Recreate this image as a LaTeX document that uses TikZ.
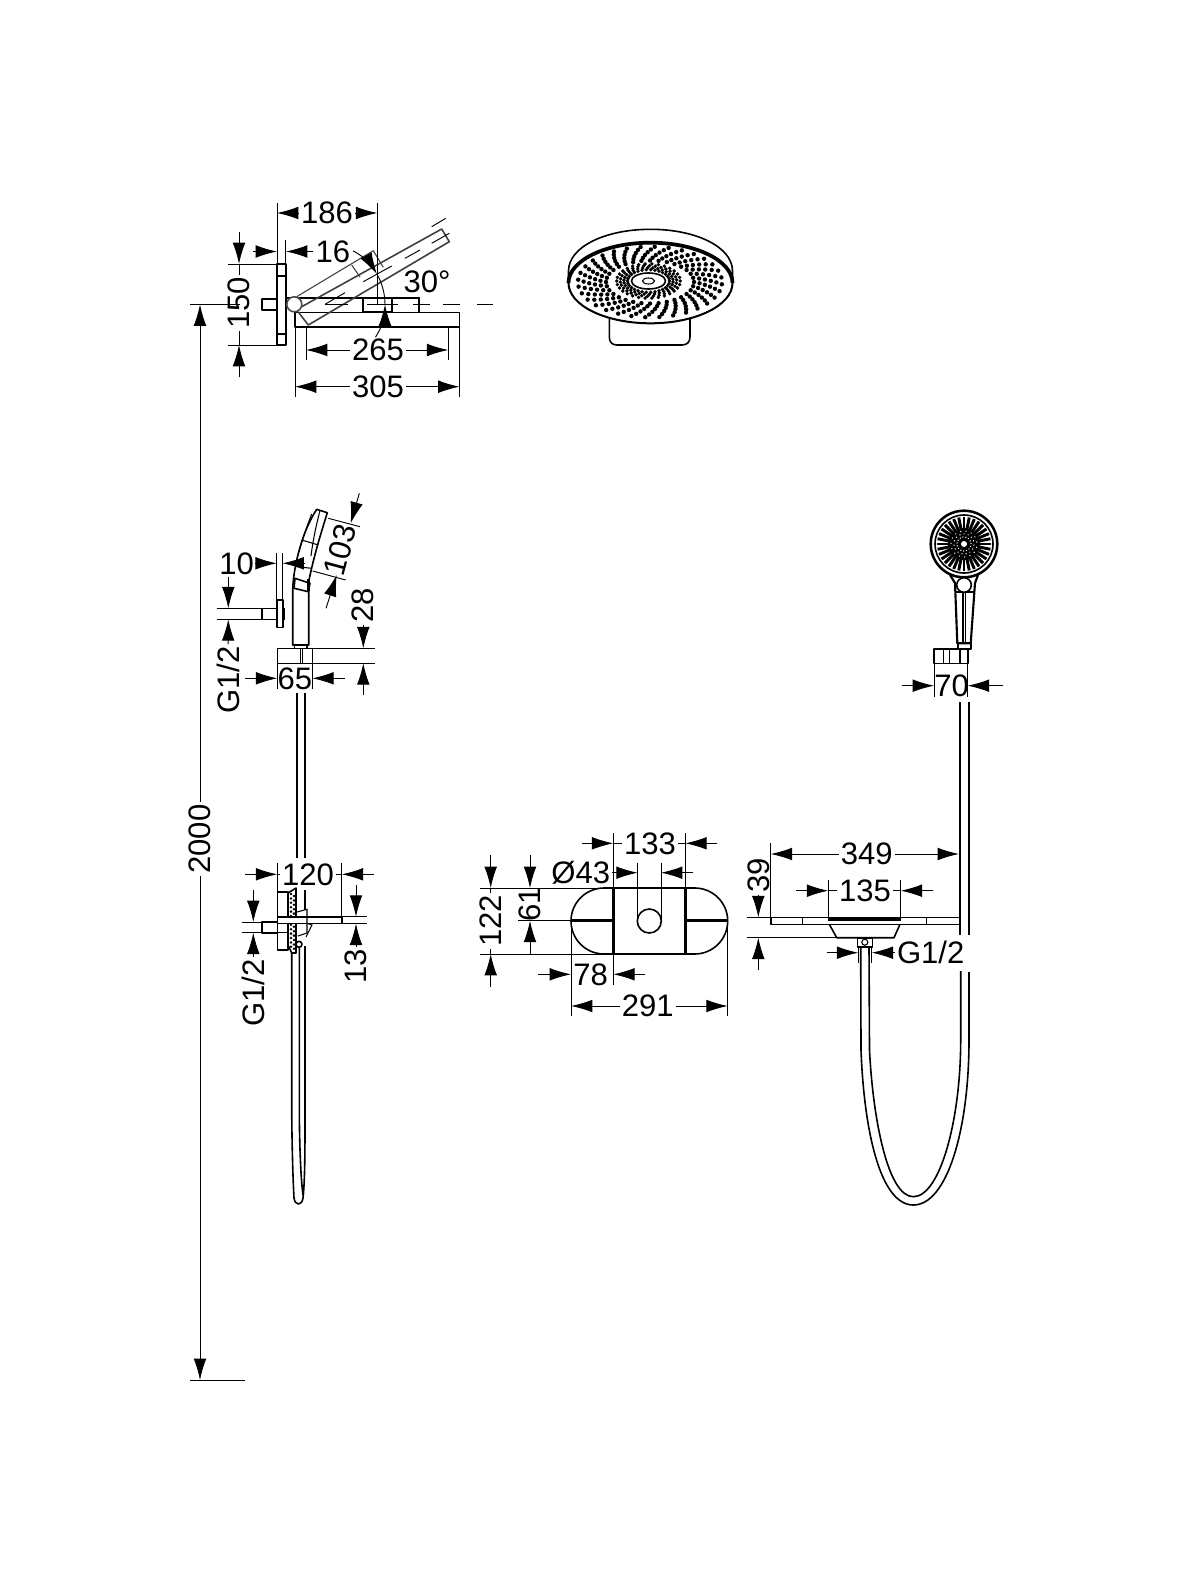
\documentclass[tikz,border=0pt]{standalone}
\usepackage{fontspec}
\setmainfont{Liberation Sans}
\usetikzlibrary{arrows.meta}

\tikzset{
  dimline/.style={draw=black,line width=0.7pt},
  dimtip/.style={dimline,-{Latex[length=16pt,width=9.5pt]}},
  dimtext/.style={inner sep=1.5pt,font=\fontsize{23.3}{26}\selectfont},
  thinpart/.style={draw=black,line width=0.8pt},
  part/.style={draw=black,line width=1.2pt,line join=round},
  thickpart/.style={draw=black,line width=1.9pt,line join=round}
}

\begin{document}
\begin{tikzpicture}[x=0.75pt,y=0.75pt,yscale=-1,xscale=1]
\useasboundingbox (0,0) rectangle (1200,1570);

%Shape: wall plate, arm, tilted head
\draw [part] (277,264) rectangle (286,345);
\draw [thinpart] (277,276) -- (286,276) (277,334) -- (286,334);
\draw [part] (262,299) rectangle (277,310);
\draw [thinpart] (286,298) -- (419,298) -- (419,312);
\draw [part] (295,312.3) rectangle (459.5,326.7);
\draw [part] (362.7,298) rectangle (391.7,312);
\draw [part,draw=black!75] (301.7,306.7) -- (441.7,229) -- (449.3,241.7) -- (308.3,325) -- (298,311.7);
\draw [thinpart,draw=black!75] (296.7,296.7) -- (373.3,250.7) -- (383.3,267.3);
\draw [thinpart,draw=black!75] (351.7,265) -- (360,277);
\draw [part,fill=white,draw=black!70] (294.3,304.3) circle (7.5);
%Straight Lines: center lines
\draw [dimline] (190,304.5) -- (240,304.5);
\foreach \a/\b in {325/348,367/398,413/430,443/460,477/493}
  \draw [dimline] (\a,304.5) -- (\b,304.5);
\draw [dimline] (325,304.3) -- (345,292.7) (363.3,281.7) -- (391.7,266) (405,258.3) -- (420,250) (431.7,243.3) -- (449.3,233.3) (431.7,226.7) -- (445.7,218.3);
%Shape: Arc 30 degrees
\draw [dimline] (324,304.5) ++(-30:61) arc (-30:0:61);
\draw [dimtip] (324,304.5) ++(-61.5:61) arc (-61.5:-30:61);
\draw [dimtip] (324,304.5) ++(32.5:61) arc (32.5:0:61);

% Text Node
\draw (327,213) node (tTop) [dimtext] {186};
\draw (333,251.5) node (tGap) [dimtext] {16};
\draw (239,303) node (tPlate) [dimtext,rotate=90] {150};
\draw (427,282) node (tAngle) [dimtext] {30°};
\draw (378,350) node (tFace) [dimtext] {265};
\draw (378,386.7) node (tWidth) [dimtext] {305};
\draw (200,839) node (tHeight) [dimtext,rotate=90] {2000};

%Straight Lines: dimensions of the ceiling arm
\draw [dimline] (277,203) -- (277,264) (377.3,203) -- (377.3,305) (285.5,240) -- (285.5,264);
\draw [dimtip] (tTop) -- (277,213);
\draw [dimtip] (tTop) -- (377.3,213);
\draw [dimtip] (253,251.5) -- (277,251.5);
\draw [dimtip] (tGap) -- (286,251.5);
\draw [dimline] (228,264) -- (277,264) (228,345) -- (277,345);
\draw [dimtip] (239,232) -- (239,264);
\draw [dimline] (tPlate) -- (239,264);
\draw [dimtip] (239,377) -- (239,345);
\draw [dimline] (tPlate) -- (239,345);
\draw [dimline] (306,327) -- (306,360) (448.3,327) -- (448.3,360);
\draw [dimtip] (tFace) -- (306,350);
\draw [dimtip] (tFace) -- (448.3,350);
\draw [dimline] (295,327) -- (295,397) (459.5,327) -- (459.5,397);
\draw [dimtip] (tWidth) -- (295,386.7);
\draw [dimtip] (tWidth) -- (459.5,386.7);
\draw [dimtip] (tHeight) -- (200,304.5);
\draw [dimtip] (tHeight) -- (200,1380);
\draw [dimline] (190,1380) -- (245,1380);

%Shape: round head seen from below
\draw [part] (609.3,319) -- (609.3,337) .. controls (609.3,342) and (612,345) .. (617,345) -- (682,345) .. controls (687,345) and (690,342) .. (690,337) -- (690,319);
\draw [part,fill=white] (568.5,271) .. controls (568.5,247) and (605,229.3) .. (650.5,229.3) .. controls (696,229.3) and (732.5,247) .. (732.5,271) -- (732.5,283) -- (568.5,283) -- cycle;
\draw [part,line width=1.5pt,fill=white] (650.5,283) ellipse (82 and 40.3);
\draw [thickpart,line width=2.8pt] (568.5,283) arc (180:360:82 and 40.3);
\draw [part] (648.5,281) ellipse (17 and 8);
\draw [thinpart] (648.5,281) ellipse (6 and 3);
\foreach \k in {0,...,3}
  \foreach \a in {0,12,...,348}
    \fill ({648.5+(21+3.6*\k)*cos(\a+4*\k)},{281+0.54*(21+3.6*\k)*sin(\a+4*\k)}) circle (1.9);
\foreach \k in {0,...,5}
  \foreach \a in {0,11.25,...,349}
    \fill ({650+(44+5.6*\k)*cos(\a+3*\k)},{282+0.49*(44+5.6*\k)*sin(\a+3*\k)}) circle (2.2);

%Shape: hand shower side view
\draw [part] (276.7,600) rectangle (282.7,627.3);
\draw [thickpart] (284,608) -- (284,620);
\draw [part] (261.7,608.3) rectangle (276.7,619.3);
\draw [part] (292.7,645) -- (292.7,590) .. controls (293,572) and (300,535) .. (316.7,509.3) -- (327.3,512.7) .. controls (322,530) and (314,555) .. (308.7,581.7) -- (308.7,645) -- cycle;
\draw [thinpart] (311.7,514) .. controls (307,526) and (302,540) .. (299,552);
\draw [thinpart] (320,510.5) .. controls (316,526) and (313,540) .. (311,556);
\draw [thinpart] (301.7,540) -- (318.3,545) (296.7,566.7) -- (311.7,568.3);
\draw [part] (295,578.3) -- (310,583.3) -- (308.3,591.7) -- (294,588.3) -- cycle;
\draw [thickpart] (308.3,579) -- (308.3,591);
\draw [part] (294.3,645) rectangle (306.7,648.3);
\draw [part] (277.3,648.3) rectangle (312.3,663.3);
\draw [thinpart] (300.7,648.3) -- (300.7,663.3) (302.7,648.3) -- (302.7,663.3);
\draw [part] (296.7,693) -- (296.7,858) (305,693) -- (305,858);

%Shape: hand shower on the wall with hose
\draw [part] (277.3,891.7) rectangle (288,950);
\draw [part] (288,893) -- (296,888) -- (296,953) -- (291.7,953) -- (288,945);
\foreach \k in {0,...,12} {
  \fill (291,{894+4.4*\k}) circle (1.4);
  \fill (294,{896+4.4*\k}) circle (1.4);
}
\draw [part,fill=white] (277.3,916.7) rectangle (341.7,923.3);
\draw [part] (261.7,922) rectangle (277.3,932.7);
\draw [thinpart] (277.3,932.7) -- (288,932.7);
\draw [thinpart] (297,912) -- (307,909.3) -- (307,933) -- (298,936);
\draw [thinpart] (307,923.3) -- (312,925) -- (306,937);
\draw [part,fill=white] (299,944.3) circle (3);
\draw [thinpart] (305,890) -- (305,910);
\draw [part] (291.7,953) -- (291.7,1110) .. controls (292,1150) and (293,1180) .. (294,1198) .. controls (295,1206) and (302,1206) .. (303,1198) .. controls (305,1180) and (305,1150) .. (305,1110) -- (305,946);
\draw [part] (299.3,948) -- (299.3,1110) .. controls (299.5,1150) and (301,1180) .. (303,1195);

% Text Node
\draw (236.7,563.3) node (tDepth) [dimtext] {10};
\draw (228,680) node (tThreadA) [dimtext,rotate=90] {G1/2};
\draw (340,550) node (tHead) [dimtext,rotate=75] {103};
\draw (363.3,605) node (tHolder) [dimtext,rotate=90] {28};
\draw (295,678.3) node (tHolderW) [dimtext] {65};
\draw (308,874.3) node (tReach) [dimtext] {120};
\draw (253.3,993) node (tThreadB) [dimtext,rotate=90] {G1/2};
\draw (356,966.7) node (tRod) [dimtext,rotate=90] {13};

%Straight Lines: dimensions of the side view
\draw [dimline] (276.7,553) -- (276.7,600) (282.5,553) -- (282.5,600);
\draw [dimtip] (255,563.3) -- (276.7,563.3);
\draw [dimtip] (305,563.3) -- (282.5,563.3);
\draw [dimline] (216.7,608.3) -- (261.7,608.3) (216.7,619.3) -- (261.7,619.3);
\draw [dimtip] (228.3,576.7) -- (228.3,608.3);
\draw [dimtip] (tThreadA) -- (228.3,619.3);
\draw [dimline] (328.3,518.3) -- (360,526.7) (312.7,571) -- (345.7,580);
\draw [dimtip] (359.3,493.3) -- (350.7,523.3);
\draw [dimtip] (326,608.3) -- (336.7,575);
\draw [dimline] (312.3,648.3) -- (375,648.3) (312.3,663.3) -- (375,663.3);
\draw [dimtip] (tHolder) -- (363.3,648.3);
\draw [dimtip] (363.3,695) -- (363.3,663.3);
\draw [dimline] (277.3,663.3) -- (277.3,689) (312.3,663.3) -- (312.3,689);
\draw [dimtip] (245,678.3) -- (277.3,678.3);
\draw [dimtip] (345,678.3) -- (312.3,678.3);
\draw [dimline] (277.3,863) -- (277.3,891.7) (341.7,863) -- (341.7,916.7);
\draw [dimtip] (245,874.3) -- (277.3,874.3);
\draw [dimtip] (374,874.3) -- (341.7,874.3);
\draw [dimline] (tReach) -- (277.3,874.3) (tReach) -- (341.7,874.3);
\draw [dimline] (241.7,922) -- (261.7,922) (241.7,932.7) -- (261.7,932.7);
\draw [dimtip] (253.3,890) -- (253.3,922);
\draw [dimtip] (tThreadB) -- (253.3,932.7);
\draw [dimline] (341.7,916.7) -- (366.7,916.7) (341.7,923.7) -- (366.7,923.7);
\draw [dimtip] (356,885) -- (356,916.7);
\draw [dimtip] (tRod) -- (356,923.7);

%Shape: wall plate of the hose outlet
\draw [part] (604,888) -- (694.7,888) arc (-90:90:33) -- (604,954) arc (90:270:33) -- cycle;
\draw [thickpart] (613.3,888) -- (613.3,954) (685.3,888) -- (685.3,954);
\draw [thickpart] (571,920.7) -- (613.3,920.7) (685.3,920.7) -- (727.7,920.7);
\draw [part] (649.3,921) circle (12);

% Text Node
\draw (650,843.3) node (tDist) [dimtext] {133};
\draw (580.7,872.7) node (tBore) [dimtext] {Ø43};
\draw (490.7,921) node (tPlateH) [dimtext,rotate=90] {122};
\draw (530,904) node (tHalf) [dimtext,rotate=90] {61};
\draw (590.7,974.3) node (tSide) [dimtext] {78};
\draw (647.7,1006) node (tPlateW) [dimtext] {291};

%Straight Lines: dimensions of the wall plate
\draw [dimline] (613.3,833) -- (613.3,888) (685.3,833) -- (685.3,888);
\draw [dimtip] (581.7,843.3) -- (613.3,843.3);
\draw [dimtip] (717.3,843.3) -- (685.3,843.3);
\draw [dimline] (tDist) -- (613.3,843.3) (tDist) -- (685.3,843.3);
\draw [dimline] (637.7,862.7) -- (637.7,921) (661,862.7) -- (661,921);
\draw [dimtip] (611.7,872.7) -- (637.7,872.7);
\draw [dimtip] (693.3,872.7) -- (661,872.7);
\draw [dimline] (480,888) -- (604,888) (480,954) -- (604,954) (518.3,920.7) -- (571,920.7);
\draw [dimtip] (490.7,855) -- (490.7,888);
\draw [dimtip] (490.7,986.7) -- (490.7,954);
\draw [dimline] (tPlateH) -- (490.7,888) (tPlateH) -- (490.7,954);
\draw [dimtip] (530,855) -- (530,888);
\draw [dimtip] (530,954) -- (530,920.7);
\draw [dimline] (571,921) -- (571,1016) (727.7,921) -- (727.7,1016) (613.3,954) -- (613.3,985);
\draw [dimtip] (538.3,974.3) -- (571,974.3);
\draw [dimtip] (645,974.3) -- (613.3,974.3);
\draw [dimtip] (tPlateW) -- (571,1006);
\draw [dimtip] (tPlateW) -- (727.7,1006);

%Shape: front view, hand shower
\draw [part,line width=1.6pt] (950,575) -- (955,583) -- (957.3,643.3) -- (970.7,643.3) -- (975,583) -- (978,575);
\draw [thinpart] (963,592) -- (963,643.3) (965.5,592) -- (965.5,643.3) (956,592) -- (974,592);
\draw [thickpart,fill=white] (964,544) circle (33.3);
\draw [part] (964,544) circle (29);
\fill (964,544) circle (16);
\foreach \a in {0,11.25,...,349}
  \draw [line width=2.2pt] (964,544) ++(\a:14) -- ++(\a:13);
\foreach \r in {7,10,13}
  \foreach \a in {0,24,...,336}
    \fill [white] (964,544) ++(\a+\r*3:\r) circle (0.7);
\fill [white] (964,544) circle (3);
\draw [part,fill=white] (964,585) circle (7.3);
\draw [part] (958,643.3) rectangle (970.7,649);
\draw [part] (934,649) rectangle (967.7,663.3);
\draw [thinpart] (943.3,649) -- (943.3,663.3) (949.3,649) -- (949.3,663.3) (960,649) -- (960,663.3);

%Shape: front view, ceiling arm, head and hose
\draw [part] (960,702) -- (960,935) (968.7,702) -- (968.7,935);
\draw [part] (770.7,917.3) rectangle (960,924.3);
\draw [thinpart] (802.7,917.3) -- (802.7,924.3) (926.7,917.3) -- (926.7,924.3);
\draw [thickpart] (828.3,919.3) -- (900.7,919.3);
\draw [part] (829.3,924.3) -- (836.7,937.7) -- (894,937.7) -- (900,924.3);
\draw [part] (857.3,937.7) rectangle (872.3,946.7);
\draw [thinpart] (864.8,942.2) circle (3);
\draw [part] (860.7,946.7) -- (861,1050) .. controls (864,1130) and (880,1205) .. (913.3,1205) .. controls (947,1205) and (969,1130) .. (969,1040) -- (969,972);
\draw [part] (869,946.7) -- (869.5,1050) .. controls (873,1120) and (888,1196.7) .. (913.3,1196.7) .. controls (940,1196.7) and (960.7,1120) .. (960.7,1040) -- (960.7,971);

% Text Node
\draw (951.7,685.7) node (tHolderF) [dimtext] {70};
\draw (866.7,854) node (tArm) [dimtext] {349};
\draw (865,890.7) node (tCone) [dimtext] {135};
\draw (758.3,875.5) node (tFlange) [dimtext,rotate=90] {39};
\draw (930.7,952.7) node (tThreadC) [dimtext] {G1/2};

%Straight Lines: dimensions of the front view
\draw [dimline] (934,663.3) -- (934,696.7) (967.7,663.3) -- (967.7,696.7);
\draw [dimtip] (901.7,685.7) -- (934,685.7);
\draw [dimtip] (1003.3,685.7) -- (967.7,685.7);
\draw [dimline] (770.7,843) -- (770.7,917.3) (959,843) -- (959,917.3);
\draw [dimtip] (tArm) -- (770.7,854);
\draw [dimtip] (tArm) -- (959,854);
\draw [dimline] (828.3,880) -- (828.3,918) (900.7,880) -- (900.7,918);
\draw [dimtip] (796,890.7) -- (828.3,890.7);
\draw [dimtip] (933.3,890.7) -- (900.7,890.7);
\draw [dimline] (tCone) -- (828.3,890.7) (tCone) -- (900.7,890.7);
\draw [dimline] (747.3,917.3) -- (770.7,917.3) (747.3,937.7) -- (836,937.7);
\draw [dimtip] (tFlange) -- (758.3,917.3);
\draw [dimtip] (758.3,970) -- (758.3,937.7);
\draw [dimline] (858.3,946.7) -- (858.3,963) (871.7,946.7) -- (871.7,963);
\draw [dimtip] (826.7,952.7) -- (858.3,952.7);
\draw [dimtip] (tThreadC) -- (871.7,952.7);

\end{tikzpicture}
\end{document}
